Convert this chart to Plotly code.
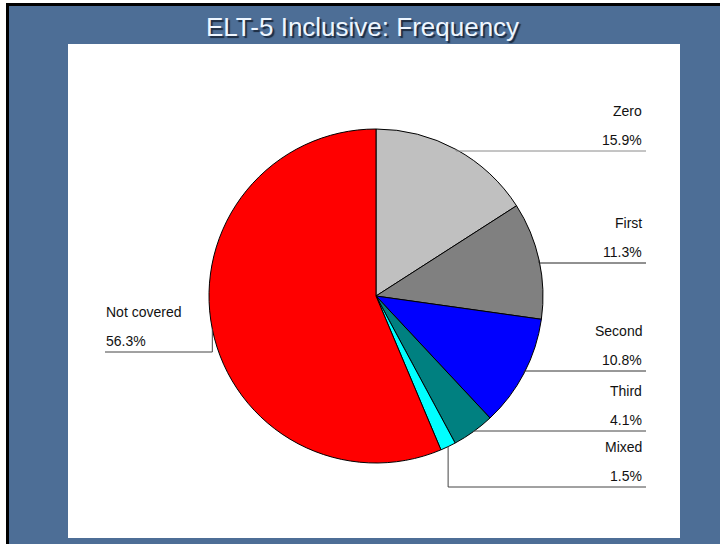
import math
import plotly.graph_objects as go

# ---- data ----
labels = ["Zero", "First", "Second", "Third", "Mixed", "Not covered"]
values = [15.9, 11.3, 10.8, 4.1, 1.5, 56.3]
colors = ["#C0C0C0", "#808080", "#0000FF", "#008080", "#00FFFF", "#FF0000"]
title_text = "ELT-5 Inclusive: Frequency"

# label layout (pixel units): underline y, side
label_line_y = [151, 263, 371, 431, 487, 352]
label_side = ["right", "right", "right", "right", "right", "left"]
line_colors = ["#8a8a8a", "#222222", "#333333", "#444444", "#444444", "#444444"]

W, H = 720, 544
CX, CY, R = 376, 296, 167
RIGHT_X, LEFT_X = 646, 105


def px(x):
    return x / W


def py(y):
    return 1 - y / H


fig = go.Figure()
fig.add_trace(go.Pie(
    labels=labels, values=values, sort=False, direction="clockwise", rotation=0,
    marker=dict(colors=colors, line=dict(color="#000000", width=1)),
    textinfo="none", hoverinfo="label+percent", showlegend=False,
    domain=dict(x=[px(CX - R), px(CX + R)], y=[py(CY + R), py(CY - R)]),
))

shapes = [
    # slide background
    dict(type="rect", xref="paper", yref="paper", x0=px(6), x1=1, y0=0, y1=py(3),
         fillcolor="#4D6E96", line=dict(width=0), layer="below"),
    dict(type="rect", xref="paper", yref="paper", x0=px(6), x1=px(9), y0=0, y1=py(3),
         fillcolor="#000000", line=dict(width=0), layer="below"),
    dict(type="rect", xref="paper", yref="paper", x0=px(6), x1=1, y0=py(6), y1=py(3),
         fillcolor="#000000", line=dict(width=0), layer="below"),
    # white chart panel
    dict(type="rect", xref="paper", yref="paper", x0=px(68), x1=px(680), y0=py(538), y1=py(44),
         fillcolor="#FFFFFF", line=dict(width=0), layer="below"),
]

annotations = [dict(
    text=title_text, xref="paper", yref="paper", x=px(362), y=py(27),
    xanchor="center", yanchor="middle", showarrow=False,
    font=dict(family="Liberation Sans, Arial", size=26, color="#EEF6FF",
              shadow="2px 2px 1px #1c2b40"),
)]

total = sum(values)
cum = 0.0
for i, (lab, v) in enumerate(zip(labels, values)):
    mid = (cum + v / 2) / total * 2 * math.pi
    cum += v
    ex = CX + R * math.sin(mid)
    ey = CY - R * math.cos(mid)
    ly = label_line_y[i]
    endx = RIGHT_X if label_side[i] == "right" else LEFT_X
    path = f"M {px(ex)},{py(ey)} L {px(ex)},{py(ly)} L {px(endx)},{py(ly)}"
    shapes.append(dict(type="path", xref="paper", yref="paper", path=path,
                       line=dict(color=line_colors[i], width=1), layer="above"))
    if label_side[i] == "right":
        ax, anchor = px(RIGHT_X - 2), "right"
    else:
        ax, anchor = px(LEFT_X - 1), "left"
    for txt, dy in ((lab, -40), (f"{v:.1f}%", -11)):
        annotations.append(dict(
            text=txt, xref="paper", yref="paper", x=ax, y=py(ly + dy),
            xanchor=anchor, yanchor="middle", showarrow=False,
            font=dict(family="Liberation Sans, Arial", size=14, color="#111111"),
        ))

fig.update_layout(
    width=W, height=H, margin=dict(l=0, r=0, t=0, b=0),
    paper_bgcolor="#FFFFFF", plot_bgcolor="#FFFFFF",
    shapes=shapes, annotations=annotations,
)

fig.write_html("out.html")
